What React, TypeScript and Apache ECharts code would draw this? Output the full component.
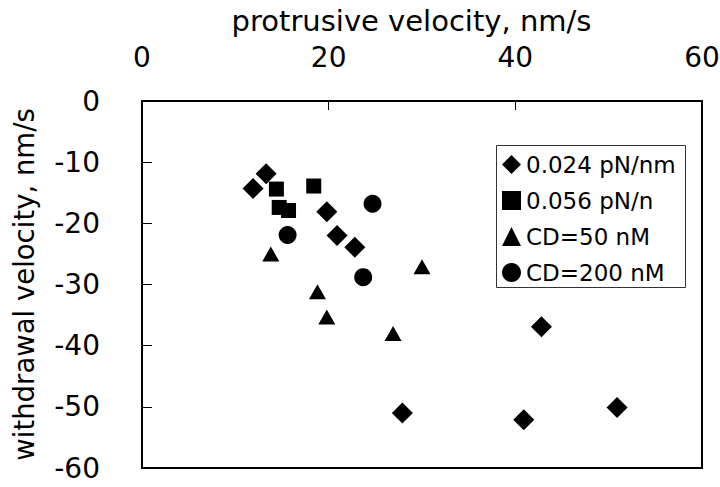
import React, { useEffect, useRef } from "react";
import * as echarts from "echarts";

const seriesNames = ["0.024 pN/nm", "0.056 pN/n", "CD=50 nM", "CD=200 nM"];
const seriesSymbols = ["diamond", "rect", "triangle", "circle"];
const seriesSizes: [number, number][] = [[21, 21], [15, 15], [17, 15], [18, 18]];

const diamondData: [number, number][] = [
  [11.9, -14.3], [13.3, -11.9], [19.8, -18.1], [20.9, -22.0], [22.8, -23.9],
  [27.9, -51.0], [42.8, -36.9], [40.9, -52.1], [50.9, -50.1],
];
const squareData: [number, number][] = [
  [14.4, -14.4], [18.4, -13.9], [14.7, -17.4], [15.7, -17.9],
];
const triangleData: [number, number][] = [
  [13.8, -25.0], [18.8, -31.2], [19.8, -35.3], [30.0, -27.1], [26.9, -38.0],
];
const circleData: [number, number][] = [
  [24.7, -16.8], [15.6, -21.9], [23.7, -28.8],
];
const allData = [diamondData, squareData, triangleData, circleData];

const xTitle = "protrusive velocity, nm/s";
const yTitle = "withdrawal velocity, nm/s";

export default function App() {
  const ref = useRef<HTMLDivElement>(null);
  useEffect(() => {
    if (!ref.current) return;
    const chart = echarts.init(ref.current, undefined, { renderer: "svg" });
    const font = "DejaVu Sans, Verdana, sans-serif";
    chart.setOption({
      animation: false,
      backgroundColor: "#fff",
      grid: {
        left: 142, top: 101, width: 560, height: 367,
        containLabel: false, outerBoundsMode: "none",
        show: true, borderColor: "#000", borderWidth: 2, backgroundColor: "transparent",
      },
      xAxis: {
        type: "value", position: "top", min: 0, max: 60, interval: 20,
        name: xTitle, nameLocation: "middle", nameGap: 66,
        nameTextStyle: { fontFamily: font, fontSize: 29, color: "#000", padding: [0, 21, 0, 0] },
        axisLine: { show: true, lineStyle: { color: "#000", width: 2 } },
        axisTick: { show: true, inside: true, length: 9, lineStyle: { color: "#000", width: 1 } },
        axisLabel: { margin: 30, fontFamily: font, fontSize: 28, color: "#000" },
        splitLine: { show: false },
      },
      yAxis: {
        type: "value", min: -60, max: 0, interval: 10,
        name: yTitle, nameLocation: "middle", nameGap: 104,
        nameTextStyle: { fontFamily: font, fontSize: 27.5, color: "#000" },
        axisLine: { show: true, lineStyle: { color: "#000", width: 2 } },
        axisTick: { show: true, inside: true, length: 10, lineStyle: { color: "#000", width: 1 } },
        axisLabel: { margin: 42, fontFamily: font, fontSize: 28, color: "#000" },
        splitLine: { show: false },
      },
      legend: {
        orient: "vertical", left: 494, top: 143,
        padding: [10, 10, 1, 8],
        itemWidth: 19, itemHeight: 19, itemGap: 13, itemTextGap: 7,
        itemStyle: { opacity: 1 },
        textStyle: { fontFamily: font, fontSize: 23, color: "#000" },
        data: seriesNames,
      },
      graphic: [
        {
          type: "rect", left: 494, top: 143, z: 100,
          shape: { width: 189, height: 142 },
          style: { fill: "none", stroke: "#333", lineWidth: 1 },
        },
      ],
      series: seriesNames.map((name, i) => ({
        type: "scatter", name, data: allData[i],
        symbol: seriesSymbols[i], symbolSize: seriesSizes[i],
        itemStyle: { color: "#000", opacity: 1 },
      })),
    });
    return () => chart.dispose();
  }, []);
  return <div ref={ref} style={{ position: "fixed", left: 0, top: 0, width: 720, height: 487 }} />;
}
